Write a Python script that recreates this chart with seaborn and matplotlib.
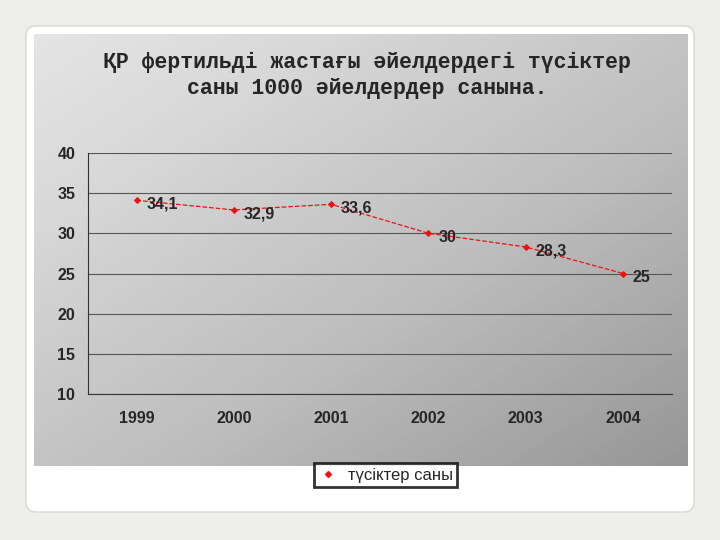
import numpy as np
import pandas as pd
import seaborn as sns
import matplotlib.pyplot as plt
from matplotlib.patches import FancyBboxPatch
from matplotlib.lines import Line2D

years = ['1999', '2000', '2001', '2002', '2003', '2004']
values = [34.1, 32.9, 33.6, 30.0, 28.3, 25.0]
labels = ['34,1', '32,9', '33,6', '30', '28,3', '25']
df = pd.DataFrame({'year': years, 'value': values})

sns.set_style('white')
plt.rcParams['font.family'] = ['Liberation Sans', 'DejaVu Sans']

fig = plt.figure(figsize=(7.2, 5.4), dpi=100)
fig.patch.set_facecolor('#eeeeea')

# slide and gray panel
bg = fig.add_axes([0, 0, 1, 1])
bg.set_xlim(0, 720); bg.set_ylim(540, 0); bg.axis('off')
bg.add_patch(FancyBboxPatch((26, 26), 668, 486, boxstyle='round,pad=0,rounding_size=10',
                            fc='white', ec='#d8d8d0', lw=1))
gx, gy = np.meshgrid(np.linspace(0, 1, 256), np.linspace(0, 1, 256))
grad = 0.5 * gx + 0.5 * gy
bg.imshow(grad, extent=(34, 688, 466, 34), cmap='Greys', vmin=-0.6, vmax=2.6,
          aspect='auto', zorder=1)

fig.text(0.51, 0.86, 'ҚР фертильді жастағы әйелдердегі түсіктер\nсаны 1000 әйелдердер санына.',
         ha='center', va='center', fontsize=15.5, fontweight='bold',
         family=['Liberation Mono', 'DejaVu Sans Mono'], linespacing=1.3)

ax = fig.add_axes([0.122, 0.270, 0.811, 0.447])
ax.patch.set_alpha(0)
sns.lineplot(data=df, x='year', y='value', ax=ax, color='#ee1111', lw=0.9,
             linestyle='--', marker='D', markersize=3, markeredgecolor='#ee1111',
             sort=False, legend=False)
for i, (v, t) in enumerate(zip(values, labels)):
    ax.annotate(t, (i, v), xytext=(7, -3), textcoords='offset points',
                fontsize=11.5, fontweight='bold', va='center')
ax.set_xlim(-0.5, 5.5)
ax.set_ylim(10, 40)
ax.set_yticks(range(10, 41, 5))
ax.yaxis.grid(True, color='#555555', lw=0.8)
ax.set_xlabel(''); ax.set_ylabel('')
ax.tick_params(axis='both', labelsize=11.5, length=0)
for lab in ax.get_xticklabels() + ax.get_yticklabels():
    lab.set_fontweight('bold')
ax.tick_params(axis='x', pad=12)
ax.tick_params(axis='y', pad=22)
for s in ['top', 'right']:
    ax.spines[s].set_visible(False)
ax.spines['left'].set_color('#333333')
ax.spines['bottom'].set_color('#333333')
for t in ax.get_yticklabels():
    t.set_ha('left')

handle = Line2D([], [], color='#ee1111', marker='D', markersize=3, lw=0)
leg = ax.legend([handle], ['түсіктер саны'], loc='center', bbox_to_anchor=(0.51, -0.335),
                frameon=True, fancybox=False, edgecolor='black', fontsize=12,
                handlelength=1.2, borderpad=0.25, handletextpad=0.6)
leg.get_frame().set_linewidth(2)

fig.savefig('out.png', dpi=100, facecolor=fig.get_facecolor())
